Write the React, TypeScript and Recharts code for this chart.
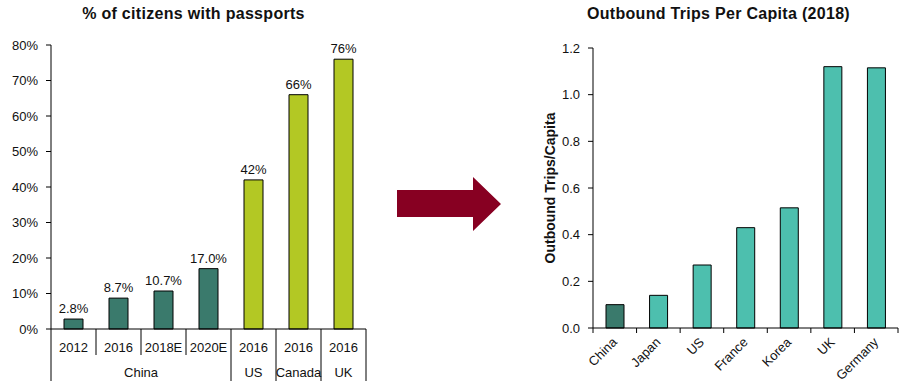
import React from "react";
import { BarChart, Bar, XAxis, YAxis, Cell, LabelList } from "recharts";

// ---- Left chart data ----
const passportYears = ["2012", "2016", "2018E", "2020E", "2016", "2016", "2016"];
const passportGroups = ["China", "China", "China", "China", "US", "Canada", "UK"];
const passportValues = [2.8, 8.7, 10.7, 17.0, 42, 66, 76];
const passportLabels = ["2.8%", "8.7%", "10.7%", "17.0%", "42%", "66%", "76%"];
const passportTicks = [0, 10, 20, 30, 40, 50, 60, 70, 80];

// ---- Right chart data ----
const tripCountries = ["China", "Japan", "US", "France", "Korea", "UK", "Germany"];
const tripValues = [0.1, 0.14, 0.27, 0.43, 0.515, 1.12, 1.115];
const tripTicks = [0, 0.2, 0.4, 0.6, 0.8, 1.0, 1.2];

const DARK = "#3A7A6C";
const LIME = "#B3C824";
const TEAL = "#4DBFAE";
const FONT = "Arial, 'Liberation Sans', sans-serif";

const passportData = passportYears.map((y, i) => ({
  key: i,
  year: y,
  group: passportGroups[i],
  value: passportValues[i],
  label: passportLabels[i],
}));

const tripData = tripCountries.map((c, i) => ({ country: c, value: tripValues[i] }));

// Left layout
const L_W = 380, L_H = 391, L_LEFT = 51, L_RIGHT = 14, L_TOP = 45, L_BOTTOM = 62;
const L_BAND = (L_W - L_LEFT - L_RIGHT) / passportData.length;

const PassportTick = (props: any) => {
  const { x, y, payload } = props;
  const i = payload.index ?? payload.value;
  const d = passportData[i];
  const left = x - L_BAND / 2;
  const right = x + L_BAND / 2;
  const firstOfGroup = i === 0 || passportGroups[i - 1] !== d.group;
  let groupSize = 0;
  if (firstOfGroup) {
    for (let k = i; k < passportGroups.length && passportGroups[k] === d.group; k++) groupSize++;
  }
  const isLast = i === passportData.length - 1;
  return (
    <g>
      <line x1={left} x2={left} y1={y} y2={firstOfGroup ? y + 52 : y + 26} stroke="#000" strokeWidth={1} />
      {isLast && <line x1={right} x2={right} y1={y} y2={y + 52} stroke="#000" strokeWidth={1} />}
      <text x={x} y={y + 23} textAnchor="middle" fontSize={13} fill="#111" fontFamily={FONT}>
        {d.year}
      </text>
      {firstOfGroup && (
        <text
          x={left + (groupSize * L_BAND) / 2}
          y={y + 48}
          textAnchor="middle"
          fontSize={13}
          fill="#111"
          fontFamily={FONT}
        >
          {d.group}
        </text>
      )}
    </g>
  );
};

// Right layout
const R_W = 387, R_H = 391, R_LEFT = 73, R_RIGHT = 9, R_TOP = 48, R_BOTTOM = 63;
const R_BAND = (R_W - R_LEFT - R_RIGHT) / tripData.length;

const TripTick = (props: any) => {
  const { x, y, payload, index } = props;
  const i = index ?? 0;
  const left = x - R_BAND / 2;
  const right = x + R_BAND / 2;
  const isLast = i === tripData.length - 1;
  const tx = x + 3;
  const ty = y + 15;
  return (
    <g>
      <line x1={left} x2={left} y1={y} y2={y + 5} stroke="#000" />
      {isLast && <line x1={right} x2={right} y1={y} y2={y + 5} stroke="#000" />}
      <text
        x={tx}
        y={ty}
        textAnchor="end"
        fontSize={13}
        fill="#111"
        fontFamily={FONT}
        transform={`rotate(-45, ${tx}, ${ty})`}
      >
        {payload.value}
      </text>
    </g>
  );
};

const titleStyle: React.CSSProperties = {
  position: "absolute",
  top: 5,
  width: 400,
  textAlign: "center",
  fontWeight: "bold",
  fontSize: 16,
  letterSpacing: 0.3,
  color: "#111",
  fontFamily: FONT,
  whiteSpace: "nowrap",
};

export default function App() {
  return (
    <div style={{ position: "absolute", left: 0, top: 0, width: 907, height: 391, background: "#fff", fontFamily: FONT }}>
      <div style={{ ...titleStyle, left: 193.5 - 200 }}>% of citizens with passports</div>
      <div style={{ position: "absolute", left: 0, top: 0 }}>
        <BarChart
          width={L_W}
          height={L_H}
          data={passportData}
          margin={{ top: L_TOP, right: L_RIGHT, bottom: 0, left: 0 }}
          barCategoryGap={0}
        >
          <XAxis
            dataKey="key"
            type="category"
            height={L_BOTTOM}
            tickLine={false}
            tickSize={0}
            tickMargin={0}
            axisLine={{ stroke: "#000" }}
            interval={0}
            tick={<PassportTick />}
          />
          <YAxis
            width={L_LEFT}
            domain={[0, 80]}
            ticks={passportTicks}
            tickFormatter={(v: number) => `${v}%`}
            tick={{ fontSize: 13, fill: "#111", fontFamily: FONT }}
            tickSize={5}
            tickMargin={8}
            tickLine={{ stroke: "#000" }}
            axisLine={{ stroke: "#000" }}
          />
          <Bar dataKey="value" barSize={19} stroke="#000" strokeWidth={1} isAnimationActive={false}>
            {passportData.map((d, i) => (
              <Cell key={i} fill={d.group === "China" ? DARK : LIME} />
            ))}
            <LabelList dataKey="label" position="top" offset={6} style={{ fontSize: 13, fill: "#111", fontFamily: FONT }} />
          </Bar>
        </BarChart>
      </div>

      {/* Arrow */}
      <svg style={{ position: "absolute", left: 0, top: 0 }} width={907} height={391}>
        <polygon points="397,190 473,190 473,177 501,204 473,231 473,217 397,217" fill="#870022" />
      </svg>

      <div style={{ ...titleStyle, left: 718.5 - 200 }}>Outbound Trips Per Capita (2018)</div>
      <div style={{ position: "absolute", left: 520, top: 0 }}>
        <BarChart
          width={R_W}
          height={R_H}
          data={tripData}
          margin={{ top: R_TOP, right: R_RIGHT, bottom: 0, left: 0 }}
          barCategoryGap={0}
        >
          <XAxis
            dataKey="country"
            height={R_BOTTOM}
            tickLine={false}
            tickSize={0}
            tickMargin={0}
            axisLine={{ stroke: "#000" }}
            interval={0}
            tick={<TripTick />}
          />
          <YAxis
            width={R_LEFT}
            domain={[0, 1.2]}
            ticks={tripTicks}
            tickFormatter={(v: number) => v.toFixed(1)}
            tick={{ fontSize: 13, fill: "#111", fontFamily: FONT }}
            tickSize={5}
            tickMargin={8}
            tickLine={{ stroke: "#000" }}
            axisLine={{ stroke: "#000" }}
            label={{
              value: "Outbound Trips/Capita",
              angle: -90,
              position: "insideLeft",
              offset: 30,
              style: { textAnchor: "middle", fontSize: 14, fontWeight: "bold", fill: "#111", fontFamily: FONT },
            }}
          />
          <Bar dataKey="value" barSize={18} stroke="#000" strokeWidth={1} isAnimationActive={false}>
            {tripData.map((d, i) => (
              <Cell key={i} fill={i === 0 ? DARK : TEAL} />
            ))}
          </Bar>
        </BarChart>
      </div>
    </div>
  );
}
